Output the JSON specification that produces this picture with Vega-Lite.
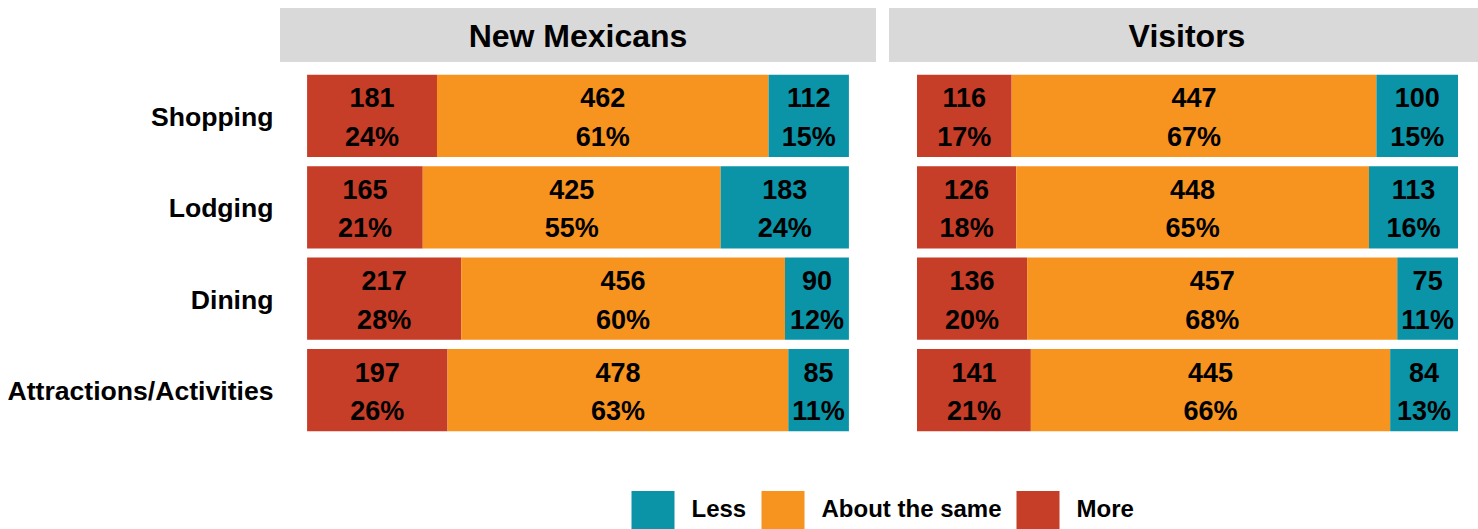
{
  "$schema": "https://vega.github.io/schema/vega-lite/v6.json",
  "padding": {"left": 6, "top": 8, "right": 0, "bottom": 0},
  "autosize": {"type": "pad"},
  "datasets": {
    "bars": [
      {"group": "New Mexicans", "category": "Shopping", "response": "More", "rank": 1, "count": 181, "pct": 0.24},
      {"group": "New Mexicans", "category": "Shopping", "response": "About the same", "rank": 2, "count": 462, "pct": 0.61},
      {"group": "New Mexicans", "category": "Shopping", "response": "Less", "rank": 3, "count": 112, "pct": 0.15},
      {"group": "New Mexicans", "category": "Lodging", "response": "More", "rank": 1, "count": 165, "pct": 0.21},
      {"group": "New Mexicans", "category": "Lodging", "response": "About the same", "rank": 2, "count": 425, "pct": 0.55},
      {"group": "New Mexicans", "category": "Lodging", "response": "Less", "rank": 3, "count": 183, "pct": 0.24},
      {"group": "New Mexicans", "category": "Dining", "response": "More", "rank": 1, "count": 217, "pct": 0.28},
      {"group": "New Mexicans", "category": "Dining", "response": "About the same", "rank": 2, "count": 456, "pct": 0.60},
      {"group": "New Mexicans", "category": "Dining", "response": "Less", "rank": 3, "count": 90, "pct": 0.12},
      {"group": "New Mexicans", "category": "Attractions/Activities", "response": "More", "rank": 1, "count": 197, "pct": 0.26},
      {"group": "New Mexicans", "category": "Attractions/Activities", "response": "About the same", "rank": 2, "count": 478, "pct": 0.63},
      {"group": "New Mexicans", "category": "Attractions/Activities", "response": "Less", "rank": 3, "count": 85, "pct": 0.11},
      {"group": "Visitors", "category": "Shopping", "response": "More", "rank": 1, "count": 116, "pct": 0.17},
      {"group": "Visitors", "category": "Shopping", "response": "About the same", "rank": 2, "count": 447, "pct": 0.67},
      {"group": "Visitors", "category": "Shopping", "response": "Less", "rank": 3, "count": 100, "pct": 0.15},
      {"group": "Visitors", "category": "Lodging", "response": "More", "rank": 1, "count": 126, "pct": 0.18},
      {"group": "Visitors", "category": "Lodging", "response": "About the same", "rank": 2, "count": 448, "pct": 0.65},
      {"group": "Visitors", "category": "Lodging", "response": "Less", "rank": 3, "count": 113, "pct": 0.16},
      {"group": "Visitors", "category": "Dining", "response": "More", "rank": 1, "count": 136, "pct": 0.20},
      {"group": "Visitors", "category": "Dining", "response": "About the same", "rank": 2, "count": 457, "pct": 0.68},
      {"group": "Visitors", "category": "Dining", "response": "Less", "rank": 3, "count": 75, "pct": 0.11},
      {"group": "Visitors", "category": "Attractions/Activities", "response": "More", "rank": 1, "count": 141, "pct": 0.21},
      {"group": "Visitors", "category": "Attractions/Activities", "response": "About the same", "rank": 2, "count": 445, "pct": 0.66},
      {"group": "Visitors", "category": "Attractions/Activities", "response": "Less", "rank": 3, "count": 84, "pct": 0.13}
    ]
  },
  "spacing": 13,
  "hconcat": [
    {
      "spacing": 0,
      "vconcat": [
        {
          "width": 596, "height": 54,
          "data": {"values": [{"group": "New Mexicans"}]},
          "encoding": {
            "x": {"field": "group", "type": "nominal", "axis": null},
            "y": {"field": "group", "type": "nominal", "axis": null}
          },
          "layer": [
            {"mark": {"type": "rect", "color": "#D9D9D9"}},
            {"mark": {"type": "text", "fontSize": 32, "fontWeight": "bold", "color": "#000000", "dy": 2}, "encoding": {"text": {"field": "group"}}}
          ]
        },
        {
          "width": 596, "height": 382,
          "data": {"name": "bars"},
          "transform": [{"filter": "datum.group === 'New Mexicans'"}],
          "encoding": {
            "y": {"field": "category", "type": "nominal", "sort": ["Shopping", "Lodging", "Dining", "Attractions/Activities"],
                  "scale": {"paddingInner": 0.1, "paddingOuter": 0.14},
                  "axis": {"title": null, "domain": false, "ticks": false, "labelFontSize": 26.6, "labelFontWeight": "bold", "labelColor": "#000000", "labelPadding": 7, "labelOffset": 2, "minExtent": 272, "maxExtent": 272, "labelLimit": 300}},
            "x": {"field": "count", "type": "quantitative", "stack": "normalize", "scale": {"domain": [-0.05, 1.05]}, "axis": null},
            "order": {"field": "rank", "type": "quantitative"}
          },
          "layer": [
            {"mark": {"type": "bar"},
             "encoding": {"color": {"field": "response", "type": "nominal",
               "scale": {"domain": ["Less", "About the same", "More"], "range": ["#0B93A7", "#F7941F", "#C63D28"]},
               "legend": {"orient": "none", "legendX": 354, "legendY": 483, "direction": "horizontal", "title": null}}}},
            {"mark": {"type": "text", "dy": -16.5, "fontSize": 27, "fontWeight": "bold", "color": "#000000"},
             "encoding": {"x": {"field": "count", "type": "quantitative", "stack": "normalize", "bandPosition": 0.5},
               "detail": {"field": "response"}, "text": {"field": "count", "type": "quantitative"}}},
            {"mark": {"type": "text", "dy": 22, "fontSize": 27, "fontWeight": "bold", "color": "#000000"},
             "encoding": {"x": {"field": "count", "type": "quantitative", "stack": "normalize", "bandPosition": 0.5},
               "detail": {"field": "response"}, "text": {"field": "pct", "type": "quantitative", "format": ".0%"}}}
          ]
        }
      ]
    },
    {
      "spacing": 0,
      "vconcat": [
        {
          "width": 589, "height": 54,
          "data": {"values": [{"group": "Visitors"}]},
          "encoding": {
            "x": {"field": "group", "type": "nominal", "axis": null},
            "y": {"field": "group", "type": "nominal", "axis": null}
          },
          "layer": [
            {"mark": {"type": "rect", "color": "#D9D9D9"}},
            {"mark": {"type": "text", "fontSize": 32, "fontWeight": "bold", "color": "#000000", "dy": 2, "dx": 3.5}, "encoding": {"text": {"field": "group"}}}
          ]
        },
        {
          "width": 589, "height": 382,
          "data": {"name": "bars"},
          "transform": [{"filter": "datum.group === 'Visitors'"}],
          "encoding": {
            "y": {"field": "category", "type": "nominal", "sort": ["Shopping", "Lodging", "Dining", "Attractions/Activities"],
                  "scale": {"paddingInner": 0.1, "paddingOuter": 0.14}, "axis": null},
            "x": {"field": "count", "type": "quantitative", "stack": "normalize", "scale": {"domain": [-0.05176, 1.03697]}, "axis": null},
            "order": {"field": "rank", "type": "quantitative"}
          },
          "layer": [
            {"mark": {"type": "bar"},
             "encoding": {"color": {"field": "response", "type": "nominal",
               "scale": {"domain": ["Less", "About the same", "More"], "range": ["#0B93A7", "#F7941F", "#C63D28"]},
               "legend": {"orient": "none", "legendX": 354, "legendY": 483, "direction": "horizontal", "title": null}}}},
            {"mark": {"type": "text", "dy": -16.5, "fontSize": 27, "fontWeight": "bold", "color": "#000000"},
             "encoding": {"x": {"field": "count", "type": "quantitative", "stack": "normalize", "bandPosition": 0.5},
               "detail": {"field": "response"}, "text": {"field": "count", "type": "quantitative"}}},
            {"mark": {"type": "text", "dy": 22, "fontSize": 27, "fontWeight": "bold", "color": "#000000"},
             "encoding": {"x": {"field": "count", "type": "quantitative", "stack": "normalize", "bandPosition": 0.5},
               "detail": {"field": "response"}, "text": {"field": "pct", "type": "quantitative", "format": ".0%"}}}
          ]
        }
      ]
    }
  ],
  "config": {
    "view": {"stroke": null},
    "font": "Liberation Sans",
    "legend": {"symbolType": "M-1.1316,-1H1.1316V1H-1.1316Z", "symbolSize": 1444, "symbolStrokeWidth": 0, "symbolOpacity": 1, "labelFontSize": 24, "labelFontWeight": "bold", "labelColor": "#000000", "labelOffset": 19.5, "columnPadding": 14, "padding": 0, "labelLimit": 400}
  }
}
